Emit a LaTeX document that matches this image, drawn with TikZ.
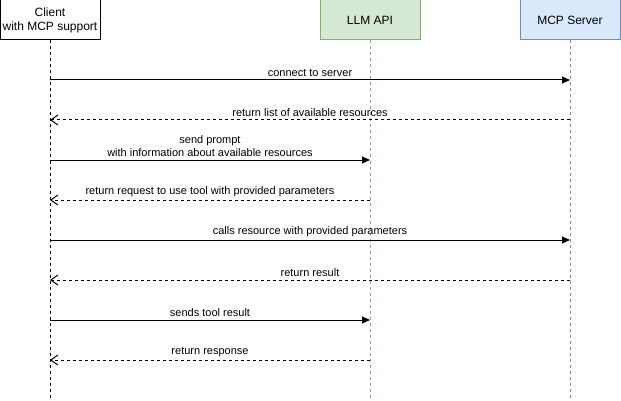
\documentclass[tikz,border=0pt]{standalone}
\usepackage{fontspec}
\setmainfont{Liberation Sans}
\usetikzlibrary{arrows.meta, positioning}

\definecolor{llmfill}{HTML}{D5E8D4}
\definecolor{llmdraw}{HTML}{82B366}
\definecolor{mcpfill}{HTML}{DAE8FC}
\definecolor{mcpdraw}{HTML}{6C8EBF}

\begin{document}
\begin{tikzpicture}[x = 1pt, y = -1pt, % pixel grid, y pointing down
                > = {Triangle[length=8pt, width=7pt]}, % arrow head style
                line width = 1pt % line style
            ]

            \tikzstyle{actor}=[draw = black, rectangle, minimum width = 100pt,
            minimum height = 40pt, inner sep = 0pt, align = center,
            font = \fontsize{12}{14}\selectfont]
            \tikzstyle{lifeline}=[dash pattern = on 3pt off 3pt]
            \tikzstyle{call}=[->]
            \tikzstyle{reply}=[-{Straight Barb[length=7pt, width=10pt]},
            dash pattern = on 3pt off 3pt]
            \tikzstyle{msg}=[above = 3pt, inner sep = 0pt, align = center,
            font = \fontsize{11}{13}\selectfont]

            \useasboundingbox (0,0) rectangle (621,401);

            \node[actor, fill = white] (client) at (50,20) {Client\\with MCP support};
            \node[actor, fill = llmfill, draw = llmdraw] (llm) at (370,20) {LLM API};
            \node[actor, fill = mcpfill, draw = mcpdraw] (mcp) at (570,20) {MCP Server};

            \coordinate (clientend) at (client |- 0,400);
            \coordinate (llmend) at (llm |- 0,400);
            \coordinate (mcpend) at (mcp |- 0,400);

            \draw[lifeline] (client) -- (clientend);
            \draw[lifeline, llmdraw] (llm) -- (llmend);
            \draw[lifeline, mcpdraw] (mcp) -- (mcpend);

            \foreach \i/\y in {1/80, 2/120, 3/160, 4/200, 5/240, 6/280, 7/320, 8/360}
            {
                \coordinate (c\i) at (client |- 0,\y);
                \coordinate (l\i) at (llm |- 0,\y);
                \coordinate (m\i) at (mcp |- 0,\y);
            }

            \path[call] (c1) edge node[msg] {connect to server} (m1);
            \path[reply] (m2) edge node[msg] {return list of available resources} (c2);
            \path[call] (c3) edge node[msg] {send prompt\\with information about available resources} (l3);
            \path[reply] (l4) edge node[msg] {return request to use tool with provided parameters} (c4);
            \path[call] (c5) edge node[msg] {calls resource with provided parameters} (m5);
            \path[reply] (m6) edge node[msg] {return result} (c6);
            \path[call] (c7) edge node[msg] {sends tool result} (l7);
            \path[reply] (l8) edge node[msg] {return response} (c8);
        \end{tikzpicture}
\end{document}
